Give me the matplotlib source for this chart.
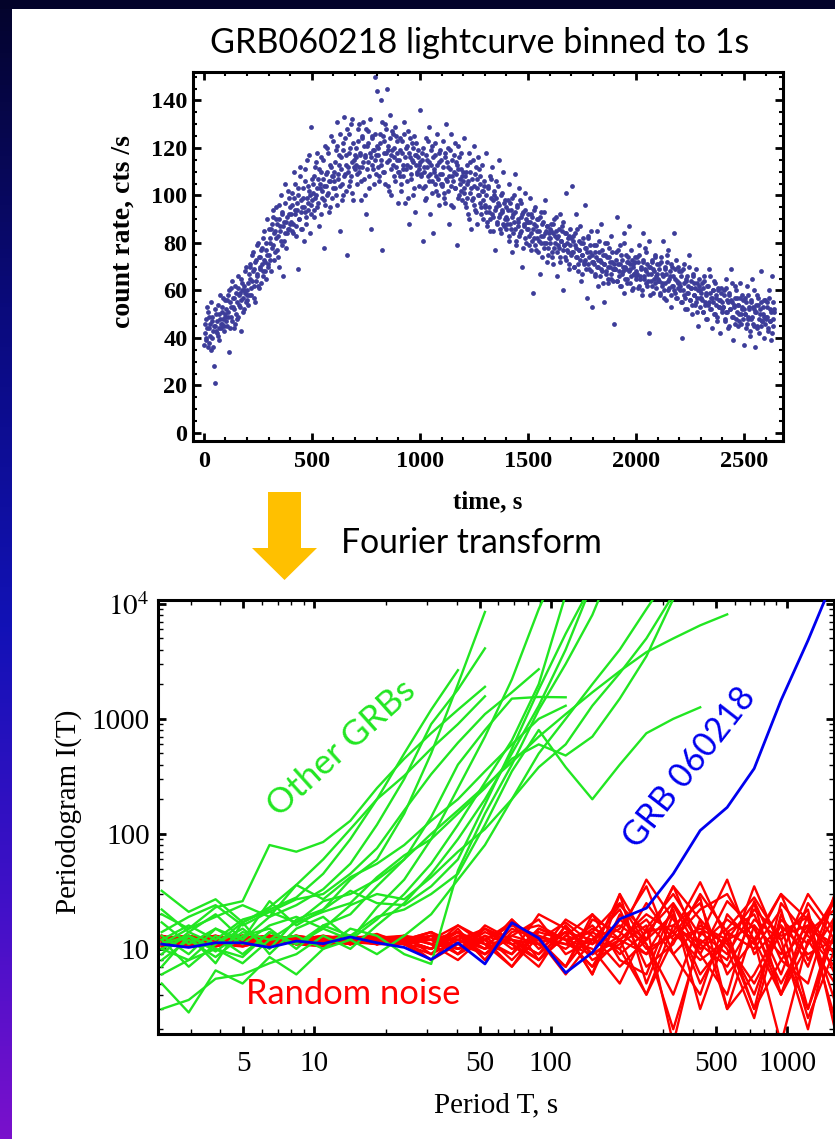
import numpy as np
import matplotlib
matplotlib.use("Agg")
import matplotlib.pyplot as plt
from matplotlib.patches import Polygon, Rectangle
from matplotlib.ticker import FixedLocator, FixedFormatter, NullFormatter, MultipleLocator
from matplotlib.colors import LinearSegmentedColormap

plt.rcParams['mathtext.fontset'] = 'stix'

# ---------------- data: light curve (count rate, cts/s) ----------------
TIME_STEP = 4.0  # s between samples within one series
RATE_BLOCKS_A = [  # one string per 100 s block, samples at t = 2, 6, 10, ...
    "37 46 40 53 36 44 49 41 35 47 43 28 21 45 50 42 54 39 48 44 51 46 57 43 49",
    "52 45 58 49 34 55 61 47 53 44 57 62 50 48 66 54 59 43 56 63 51 60 68 55 58",
    "60 54 67 71 58 64 76 62 69 55 73 66 80 61 70 74 63 78 68 85 72 65 77 90 71",
    "75 82 68 88 79 94 73 85 90 77 83 96 70 87 81 92 66 89 84 105 78 91 86 99 88",
    "92 85 101 88 110 94 83 97 69 103 90 112 86 95 99 81 106 93 88 115 97 102 84 129 96",
    "98 105 91 112 100 118 95 107 87 103 110 99 115 78 104 96 109 120 101 93 113 106 125 99 108",
    "110 103 119 96 131 107 113 85 116 105 122 100 133 109 117 75 112 126 104 120 108 132 98 115 111",
    "113 120 105 128 110 117 98 124 112 131 107 116 92 121 114 127 103 118 86 125 111 119 150 115 109",
    "144 117 106 122 140 113 77 125 110 130 118 145 104 121 115 134 100 119 126 108 116 129 112 123 97",
    "115 108 124 102 118 111 131 97 120 113 106 127 88 116 109 122 100 114 125 93 117 110 119 104 113",
    "136 109 118 81 112 104 124 99 115 108 129 92 113 106 121 84 110 117 102 126 107 114 96 119 105",
    "109 123 101 116 97 130 106 112 88 119 104 126 108 95 117 103 114 79 111 121 100 107 118 98 106",
    "103 124 97 110 105 92 118 101 114 86 107 99 121 94 112 103 88 116 100 108 95 113 102 90 104",
    "96 118 89 103 93 108 85 99 112 91 100 77 95 106 88 97 115 92 84 101 94 110 87 98 91",
    "90 98 83 105 88 94 76 92 100 86 109 81 95 89 103 84 91 97 70 93 87 101 80 89 92",
    "86 79 99 84 91 59 88 82 95 77 85 90 81 67 93 83 74 89 80 98 85 72 87 78 84",
    "82 88 76 84 71 90 80 85 66 83 78 92 74 81 87 60 79 84 73 101 77 82 69 86 75",
    "104 76 83 70 79 92 74 68 81 77 87 64 75 80 71 96 73 78 57 82 69 76 85 72 53",
    "72 79 66 74 85 70 62 76 73 88 68 75 55 71 80 67 74 63 78 70 83 65 72 69 46",
    "69 76 64 91 71 66 79 62 73 68 84 59 70 75 65 72 87 63 69 77 60 71 67 74 66",
    "68 74 61 79 66 70 58 72 84 65 69 76 62 67 81 42 70 64 73 59 68 75 63 66 71",
    "65 71 58 74 63 67 81 60 69 56 72 64 77 61 66 53 70 62 84 59 65 73 57 63 68",
    "62 68 55 40 60 71 57 64 52 66 59 75 56 61 50 67 58 63 54 69 57 45 62 53 60",
    "57 63 51 66 55 59 48 62 54 69 52 57 44 60 55 64 50 58 47 61 53 56 42 59 52",
    "53 60 47 65 51 56 44 58 52 69 49 55 39 53 62 48 57 45 54 50 63 46 52 56 37",
    "50 57 44 62 49 53 41 55 48 65 46 52 36 51 58 45 54 42 50 68 47 53 40 49 56",
    "48 55 43 60 47 52 39 66 45 51",
]
RATE_BLOCKS_B = [  # same blocks, samples at t = 4, 8, 12, ...
    "42 39 48 44 51 38 46 55 40 49 36 45 52 43 47 41 50 44 58 46 53 48 45 56 50",
    "47 56 51 60 44 53 49 64 57 52 46 59 55 61 49 58 53 65 60 57 52 62 59 70 56",
    "63 58 70 65 61 75 68 57 72 64 79 67 62 74 69 77 71 66 82 73 68 80 75 70 86",
    "80 73 86 78 91 84 76 95 82 88 74 90 85 100 79 93 87 81 97 89 84 102 92 86 95",
    "89 96 84 99 92 105 87 94 100 90 108 93 98 86 103 95 111 91 99 104 94 117 100 92 107",
    "101 94 108 99 114 103 97 111 105 92 116 102 107 98 121 104 110 100 118 106 95 112 108 123 103",
    "106 114 100 121 109 117 104 126 111 98 119 108 124 113 102 128 110 118 106 130 114 101 122 112 117",
    "116 109 123 112 130 118 106 125 114 121 100 117 128 111 122 108 132 116 124 113 119 105 126 117 121",
    "112 120 108 126 115 131 110 118 123 105 128 114 119 102 124 117 111 127 113 120 106 125 115 118 110",
    "110 119 105 123 113 108 126 116 111 121 99 118 112 124 107 115 120 103 117 113 122 109 116 111 114",
    "108 115 103 120 110 98 117 112 123 106 114 109 119 101 116 111 105 122 108 113 100 118 109 115 104",
    "105 112 99 118 107 114 102 120 108 111 96 115 106 110 122 103 109 113 99 116 105 111 102 108 110",
    "101 108 95 113 99 106 90 110 103 98 115 96 104 109 93 107 100 111 97 105 92 102 98 106 95",
    "93 100 87 104 95 90 107 92 98 85 102 94 99 89 104 91 96 86 100 93 88 97 90 95 86",
    "88 94 81 97 86 91 99 84 89 93 79 96 87 90 83 98 85 92 78 88 94 82 90 86 89",
    "83 89 77 92 81 86 94 79 87 82 90 76 85 91 80 88 83 78 93 84 80 87 75 82 86",
    "80 85 74 88 78 83 91 76 82 79 86 72 81 85 77 89 79 74 84 80 76 83 71 79 82",
    "76 81 70 84 74 78 86 71 77 73 80 67 75 82 72 78 69 76 83 71 74 79 68 75 72",
    "71 76 67 79 70 73 81 66 72 69 77 63 71 75 68 80 70 65 74 72 67 76 64 71 69",
    "69 73 64 77 68 71 62 75 67 70 80 65 69 72 63 74 68 71 66 73 61 70 67 72 65",
    "67 72 62 75 65 69 60 73 66 78 63 68 71 64 70 58 67 72 62 69 65 74 61 67 64",
    "64 69 59 72 62 66 57 70 63 67 75 60 65 68 58 71 62 66 60 69 57 64 70 61 63",
    "60 66 55 69 58 63 52 65 59 62 70 56 61 64 54 66 58 61 55 63 51 60 65 57 59",
    "56 61 51 64 54 58 48 62 55 59 66 52 57 60 50 63 54 57 49 60 53 56 61 51 55",
    "53 58 48 61 51 55 45 59 52 56 63 49 54 57 46 60 51 54 47 57 50 53 58 48 52",
    "50 55 46 58 48 52 43 56 49 53 60 45 51 54 44 57 48 52 45 55 47 50 56 46 49",
    "49 53 44 57 47 51 42 55 48 52",
]
TOP_XTICKS = [0, 500, 1000, 1500, 2000, 2500]
TOP_YTICKS = [0, 20, 40, 60, 80, 100, 120, 140]

# ---------------- data: periodograms ----------------
PERIODS = [2.26, 2.94, 3.82, 4.97, 6.46, 8.39, 10.9, 14.2, 18.4, 24.0, 31.2, 40.5, 52.7,
           68.5, 89.0, 115.7, 150, 196, 254, 330, 429, 558, 726, 943, 1226, 1594]

RANDOM_NOISE = [
    [11.5, 12.5, 11, 13, 11, 11.5, 12.5, 13, 11, 12, 14, 9, 15, 11, 8, 16, 9, 12, 20, 14, 8, 12, 25, 4, 15, 11],
    [13, 11, 12.5, 10.5, 12, 13, 11, 12, 13.5, 11, 9, 15, 8, 17, 12, 7, 14, 25, 11, 4, 18, 10, 2.5, 20, 7, 30],
    [10.5, 11, 11.5, 12, 13, 11, 10.5, 12, 12.5, 12, 8, 13, 10, 18, 10, 14, 6, 30, 12, 20, 5, 14, 3, 8, 16, 9],
    [12.5, 13, 11, 10.5, 12, 13, 12, 11, 13, 11.5, 14, 10, 12, 7, 15, 12, 7, 18, 12, 35, 10, 15, 28, 12, 2, 20],
    [11, 10.5, 12, 13, 11, 12, 11, 13, 11, 12, 10, 16, 12, 17, 8, 13, 20, 12, 4, 16, 25, 6, 12, 30, 18, 3.5],
    [12, 13, 12, 11, 10.5, 12, 13, 12, 12, 11, 13, 9, 16, 12, 11, 7, 18, 14, 9, 22, 3, 14, 20, 6, 25, 12],
    [11, 12, 11, 11.5, 13, 11, 12, 11, 12.5, 13, 11, 14, 8, 14, 16, 12, 10, 5, 15, 30, 13, 40, 9, 16, 2.5, 10],
    [13, 11, 12, 12.5, 13, 11, 11.5, 12, 11, 13, 9, 12, 15, 10, 12, 17, 11, 15, 35, 9, 16, 12, 4, 18, 11, 26],
    [10.5, 12, 13, 11, 10.5, 12, 12.5, 11, 13, 11, 8, 11, 15, 12, 9, 14, 6, 20, 10, 13, 28, 3, 16, 9, 30, 14],
    [12, 11, 10.5, 12, 13, 12, 11, 13, 12, 12.5, 12, 16, 11, 7, 13, 11, 16, 9, 14, 25, 11, 18, 12, 1.5, 12, 5],
    [11, 11.5, 12, 13, 11, 12, 12.5, 13, 11, 11, 10, 13, 9, 13, 18, 9, 12, 22, 7, 11, 30, 14, 10, 22, 3, 18],
    [12.5, 12, 13, 11, 12, 11, 12, 11, 12, 13, 11, 8, 13, 11, 7, 16, 8, 11, 16, 1.5, 14, 9, 22, 13, 16, 2.5],
    [11, 13, 11, 12, 12.5, 12, 11, 12, 11, 12, 14, 11, 9, 15, 12, 11, 9, 13, 40, 18, 9, 26, 15, 5, 14, 22],
    [12, 11, 12.5, 11.5, 11, 13, 12, 12.5, 13, 11, 13, 12, 10, 12, 9, 18, 13, 7, 12, 35, 18, 3, 6, 16, 9, 12],
    [11, 12, 13, 12, 12, 11, 12.5, 11, 12, 12, 10, 14, 11, 9, 15, 12, 14, 10, 4, 12, 22, 30, 12, 4, 20, 6],
    [12, 12.5, 11, 13, 11, 12, 11, 13, 11, 13, 12, 10, 14, 11, 12, 6, 12, 16, 11, 2, 12, 8, 35, 10, 3, 14],
    [11, 11, 12, 11, 13, 12, 13, 12, 12, 11, 12, 9, 12, 16, 13, 10, 15, 12, 18, 9, 4, 20, 11, 30, 8, 19],
    [13, 12, 11, 12, 12.5, 11, 12, 11, 13, 12, 10, 13, 11, 12, 8, 13, 11, 24, 14, 16, 11, 7, 18, 12, 22, 2],
    [11, 12.5, 12, 11, 12, 13, 11, 12, 12, 12.5, 11, 10, 13, 8, 14, 12, 7, 12, 9, 14, 38, 12, 16, 4, 11, 28],
    [12, 11, 10.5, 12, 11, 12.5, 12, 11.5, 11, 12, 13, 12, 9, 13, 11, 14, 12, 10, 25, 12, 15, 11, 5, 14, 19, 9],
    [11.5, 12, 11.5, 12.5, 12, 11, 12, 12.5, 11.5, 12, 12, 14, 10, 18, 11, 7, 20, 8, 6, 24, 9, 4, 26, 8, 5, 30],
    [12, 11.5, 12, 13, 11.5, 12, 11, 12, 13, 11.5, 13, 10, 12, 9, 20, 15, 9, 30, 5, 20, 6, 12, 3, 25, 13, 7],
]

OTHER_GRBS = [
    [9, 14, 11, 17, 22, 28, 45, 90, 200, 500, 1200, 2650],
    [12, 7, 11, 15, 10, 18, 22, 40, 60, 150, 500, 2000, 8500],
    [17, 11, 15, 12, 19, 24, 33, 55, 120, 300, 900, 1800, 4100],
    [20, 15, 23, 26, 80, 70, 85, 130, 250, 450, 750, 1200, 1900],
    [11, 15, 19, 24, 19, 36, 60, 110, 200, 320, 550, 900, 1570],
    [14, 19, 24, 16, 21, 27, 30, 45, 75, 160, 330, 620, 1100, 1700, 2700],
    [8, 12, 8.5, 13, 15, 10, 16, 20, 35, 60, 140, 400, 800, 1500, 1550, 1540],
    [10, 8, 13, 9, 14, 11, 15, 12, 18, 30, 55, 120, 280, 650, 2000, 12000],
    [6, 8, 10, 7.5, 12, 13, 10, 15, 13, 9, 7.4, 48, 150, 400, 1200, 3000, 8000, 30000],
    [13, 9, 15, 11, 16, 19, 15, 24, 30, 27, 42, 70, 110, 200, 380, 600, 1300, 2500, 5000, 12000],
    [11, 13, 9.5, 14, 12, 17, 21, 25, 42, 65, 90, 150, 250, 450, 600, 480, 700, 1500, 3500, 11000],
    [10, 13, 10, 8.5, 14, 11, 16, 13, 19, 22, 30, 45, 120, 350, 800, 380, 200, 400, 750, 1000, 1260],
    [12, 16, 12, 18, 21, 17, 26, 30, 40, 60, 100, 160, 260, 420, 700, 1100, 1700, 2600, 3800, 5000, 6500, 8100],
    [3, 3.6, 5.5, 6, 7.5, 9, 13, 10, 16, 25, 45, 90, 200, 500, 1300, 4000, 15000],
    [5, 2.8, 6.5, 5, 8.5, 6, 10, 12, 9, 13, 20, 40, 80, 200, 500, 1000, 2000, 4000, 9000, 20000],
    [32, 21, 27, 17, 23, 36, 27, 42, 55, 80, 130, 200, 350, 600, 1000, 1300],
    [22, 14, 20, 12, 26, 16, 22, 32, 25, 24, 35, 60, 180, 550, 1800, 5500, 15000],
    [7, 13, 7.5, 17, 9, 15, 19, 12, 23, 40, 90, 250, 700, 2200, 9000, 30000],
]

GRB060218 = [11.0, 10.3, 11.3, 11.3, 10.3, 11.7, 11.1, 12.7, 11.3, 10.3, 8.1, 11.3, 7.4,
             16.9, 12.4, 6.2, 9.3, 18.2, 22.6, 45, 107, 170, 370, 1450, 4800, 17500]

BOT_XTICKS = [5, 10, 50, 100, 500, 1000]
BOT_XLABELS = ['5', '10', '50', '100', '500', '1000']
BOT_YTICKS = [10, 100, 1000, 10000]
BOT_YLABELS = ['10', '100', '1000', r'$10^4$']

# ---------------- figure ----------------
W, H = 835, 1139
fig = plt.figure(figsize=(W / 100, H / 100), dpi=100)
fig.patch.set_facecolor('white')


def fx(px):
    return px / W


def fy(py):
    return 1 - py / H


# dark slide border (top strip + gradient left strip)
strip = fig.add_axes([0, 0, fx(12), 1])
cmap = LinearSegmentedColormap.from_list(
    'bg', [(0, '#04042c'), (0.27, '#0a0a7c'), (0.55, '#1212b6'), (0.8, '#4210c8'), (1, '#7a10cc')])
strip.imshow(np.linspace(0, 1, 256).reshape(-1, 1), aspect='auto', cmap=cmap)
strip.axis('off')
fig.add_artist(Rectangle((0, fy(9)), 1, 9 / H, transform=fig.transFigure,
                         facecolor='#03032a', edgecolor='none', zorder=5))

serif = 'Liberation Serif'
sans = 'Lato'

# ---------------- top panel ----------------
rates_a = [float(v) for blk in RATE_BLOCKS_A for v in blk.split()]
rates_b = [float(v) for blk in RATE_BLOCKS_B for v in blk.split()]
times_a = TIME_STEP / 2 + TIME_STEP * np.arange(len(rates_a))
times_b = TIME_STEP + TIME_STEP * np.arange(len(rates_b))

ax1 = fig.add_axes([fx(193), fy(441), (783 - 193) / W, (441 - 72) / H])
ax1.scatter(times_a, rates_a, s=12, color='#3d3d99', linewidths=0)
ax1.scatter(times_b, rates_b, s=12, color='#3d3d99', linewidths=0)
ax1.set_xlim(-50, 2680)
ax1.set_ylim(-3.4, 152)
ax1.xaxis.set_major_locator(FixedLocator(TOP_XTICKS))
ax1.yaxis.set_major_locator(FixedLocator(TOP_YTICKS))
ax1.xaxis.set_minor_locator(MultipleLocator(100))
ax1.yaxis.set_minor_locator(MultipleLocator(5))
ax1.set_xticklabels([str(v) for v in TOP_XTICKS], fontsize=17.5, fontweight='bold', family=serif)
ax1.set_yticklabels([str(v) for v in TOP_YTICKS], fontsize=17.5, fontweight='bold', family=serif)
for s in ax1.spines.values():
    s.set_linewidth(2.2)
ax1.tick_params(which='both', direction='in', top=True, right=True)
ax1.tick_params(which='major', length=6, width=2)
ax1.tick_params(which='minor', length=3, width=1.5)
ax1.tick_params(axis='x', pad=7)
ax1.tick_params(axis='y', pad=4)
ax1.set_xlabel('time, s', fontsize=18, fontweight='bold', family=serif)
ax1.xaxis.set_label_coords((488 - 193) / 590, (441 - 490) / 369)
ax1.xaxis.label.set_va('top')
ax1.set_ylabel('count rate, cts /s', fontsize=20, fontweight='bold', family=serif)
ax1.yaxis.set_label_coords((136 - 193) / 590, (441 - 232) / 369)

# ---------------- bottom panel ----------------
ax2 = fig.add_axes([fx(158), fy(1034), (834 - 158) / W, (1034 - 600) / H])
ax2.set_xscale('log')
ax2.set_yscale('log')
for curve in RANDOM_NOISE:
    ax2.plot(PERIODS[:len(curve)], curve, color='#ff0000', lw=1.7, zorder=2)
for curve in OTHER_GRBS:
    ax2.plot(PERIODS[:len(curve)], curve, color='#22e622', lw=1.7, zorder=3)
ax2.plot(PERIODS[:len(GRB060218)], GRB060218, color='#0000ee', lw=2.0, zorder=4)
ax2.set_xlim(2.18, 1580)
ax2.set_ylim(1.82, 1.08e4)
ax2.xaxis.set_major_locator(FixedLocator(BOT_XTICKS))
ax2.xaxis.set_major_formatter(FixedFormatter(BOT_XLABELS))
ax2.xaxis.set_minor_locator(FixedLocator([m * 10 ** d for d in range(0, 4) for m in range(1, 10)
                                          if m * 10 ** d not in BOT_XTICKS]))
ax2.xaxis.set_minor_formatter(NullFormatter())
ax2.yaxis.set_major_locator(FixedLocator(BOT_YTICKS))
ax2.yaxis.set_major_formatter(FixedFormatter(BOT_YLABELS))
ax2.yaxis.set_minor_locator(FixedLocator([m * 10 ** d for d in range(0, 4) for m in range(2, 10)]))
ax2.yaxis.set_minor_formatter(NullFormatter())
for lab in ax2.get_xticklabels() + ax2.get_yticklabels():
    lab.set_fontfamily(serif)
    lab.set_fontsize(21)
for s in ax2.spines.values():
    s.set_linewidth(2.2)
ax2.tick_params(which='both', direction='in', top=True, right=True)
ax2.tick_params(which='major', length=6, width=2)
ax2.tick_params(which='minor', length=3.5, width=1)
ax2.tick_params(axis='x', pad=12)
ax2.tick_params(axis='y', pad=6)
ax2.set_xlabel('Period T, s', fontsize=21, family=serif)
ax2.xaxis.set_label_coords((496 - 158) / 676, (1034 - 1092) / 434)
ax2.xaxis.label.set_va('top')
ax2.set_ylabel('Periodogram I(T)', fontsize=21, family=serif)
ax2.yaxis.set_label_coords((82 - 158) / 676, (1034 - 812) / 434)

# ---------------- annotations ----------------
texts = []
t_title = fig.text(fx(480), fy(53), 'GRB060218 lightcurve binned to 1s', fontsize=20,
                   family=sans, ha='center', va='baseline', color='black')
texts.append((t_title, 540, 0))
t_ft = fig.text(fx(471), fy(553), 'Fourier transform', fontsize=20, family=sans,
                ha='center', va='baseline', color='black')
texts.append((t_ft, 262, 0))
t_rn = fig.text(fx(353), fy(1004), 'Random noise', fontsize=22, family=sans,
                ha='center', va='baseline', color='#ff0000', zorder=10)
texts.append((t_rn, 214, 0))
t_og = fig.text(fx(342), fy(748), 'Other GRBs', fontsize=22, family=sans, ha='center',
                va='center', color='#22e622', rotation_mode='anchor', zorder=10)
texts.append((t_og, 185, 42))
t_grb = fig.text(fx(690), fy(768), 'GRB 060218', fontsize=22, family=sans, ha='center',
                 va='center', color='#0000ee', rotation_mode='anchor', zorder=10)
texts.append((t_grb, 192, 52))

fig.canvas.draw()
renderer = fig.canvas.get_renderer()
for t, width_px, rot in texts:
    bb = t.get_window_extent(renderer=renderer)
    t.set_fontsize(t.get_fontsize() * width_px / bb.width)
    t.set_rotation(rot)

# block arrow (Fourier transform)
arrow_px = [(268, 492), (301, 492), (301, 548), (317, 548), (284.5, 580), (252, 548), (268, 548)]
fig.add_artist(Polygon([(fx(x), fy(y)) for x, y in arrow_px], closed=True,
                       transform=fig.transFigure, facecolor='#ffc000', edgecolor='none'))

fig.savefig('out.png', dpi=100, facecolor='white')
